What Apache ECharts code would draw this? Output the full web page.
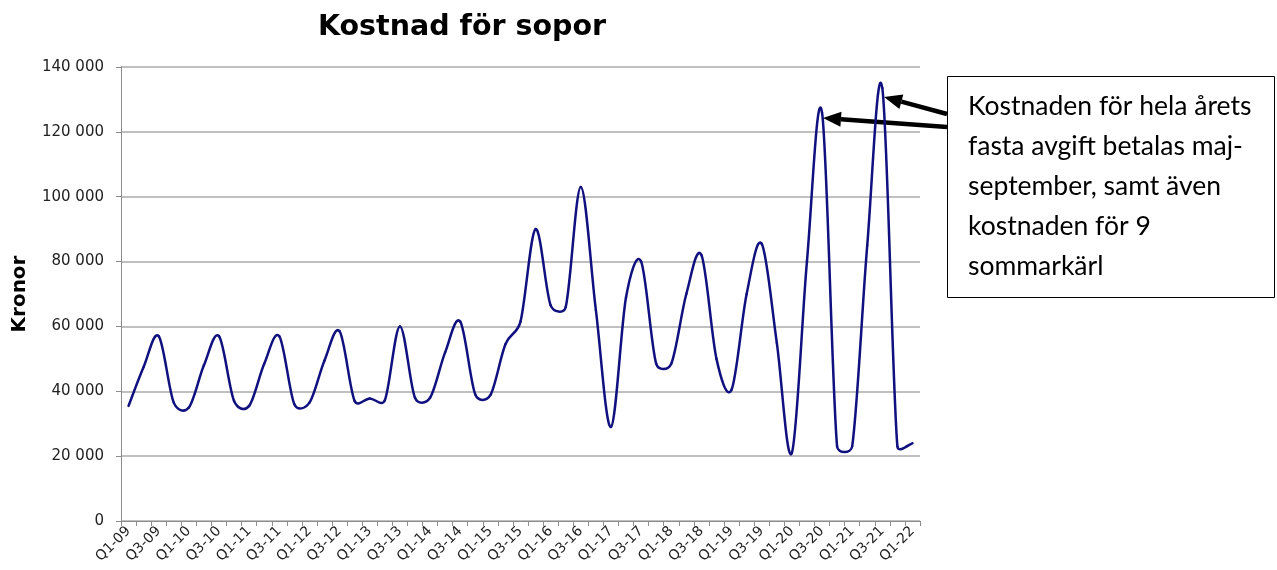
<!DOCTYPE html>
<html lang="sv">
<head>
<meta charset="UTF-8">
<title>Kostnad för sopor</title>
<script src="https://cdn.jsdelivr.net/npm/echarts@6/dist/echarts.min.js"></script>
<style>
  html, body { margin: 0; padding: 0; background: #fff; }
  #chart { width: 1277px; height: 570px; }
</style>
</head>
<body>
<div id="chart"></div>
<script>
// kvartal Q1-09 .. Q1-22
var quarters = [];
for (var yr = 9; yr <= 22; yr++) {
  for (var q = 1; q <= 4; q++) {
    if (yr === 22 && q > 1) break;
    quarters.push('Q' + q + '-' + (yr < 10 ? '0' + yr : yr));
  }
}

// kostnad per kvartal (kr)
var kostnad = [
  35500, 47500, 57000, 36500,   // 2009
  35000, 48000, 57000, 37000,   // 2010
  35500, 48500, 57000, 36000,   // 2011
  36500, 49500, 58500, 37000,   // 2012
  37800, 37200, 60000, 38000,   // 2013
  38000, 52000, 61500, 39000,   // 2014
  38800, 54500, 61500, 90000,   // 2015
  66500, 66000, 103000, 65000,  // 2016
  29000, 69000, 80000, 48500,   // 2017
  48500, 70000, 82000, 50000,   // 2018
  40500, 70000, 85500, 55000,   // 2019
  21000, 80000, 126000, 23000,  // 2020
  23000, 85000, 133500, 23000,  // 2021
  24000                         // Q1-22
];

var yTicks = { min: 0, max: 140000, step: 20000 };

var noteLines = [
  'Kostnaden för hela årets',
  'fasta avgift betalas maj-',
  'september, samt även',
  'kostnaden för 9',
  'sommarkärl'
];

var lineColor = '#10107f';

function fmt(v) {
  return String(v).replace(/\B(?=(\d{3})+(?!\d))/g, ' ');
}

// pil: linje + spets
function arrow(x1, y1, x2, y2) {
  var dx = x2 - x1, dy = y2 - y1;
  var len = Math.sqrt(dx * dx + dy * dy);
  var ux = dx / len, uy = dy / len;
  var hl = 18, hw = 7.5;
  var bx = x2 - ux * hl, by = y2 - uy * hl;
  return [{
    type: 'line',
    shape: { x1: x1, y1: y1, x2: bx, y2: by },
    style: { stroke: '#000', lineWidth: 4.5 }
  }, {
    type: 'polygon',
    shape: { points: [[x2, y2], [bx - uy * hw, by + ux * hw], [bx + uy * hw, by - ux * hw]] },
    style: { fill: '#000' }
  }];
}

function dist(a, b) {
  var dx = a[0] - b[0], dy = a[1] - b[1];
  return Math.sqrt(dx * dx + dy * dy);
}

// utjämnad kurva ungefär som Excel: Catmull-Rom 1/6, handtag högst halva segmentet
function renderSegment(params, api) {
  var i = params.dataIndex;
  var n = kostnad.length;
  if (i >= n - 1) return null;
  function pt(k) {
    k = Math.max(0, Math.min(n - 1, k));
    return api.coord([k, kostnad[k]]);
  }
  var p0 = pt(i - 1), p1 = pt(i), p2 = pt(i + 1), p3 = pt(i + 2);
  var d12 = dist(p1, p2);
  var d02 = dist(p0, p2), d13 = dist(p1, p3);
  var f1 = 1 / 6, f2 = 1 / 6;
  if (d02 > 0 && d02 * f1 > d12 / 2) f1 = d12 / 2 / d02;
  if (d13 > 0 && d13 * f2 > d12 / 2) f2 = d12 / 2 / d13;
  return {
    type: 'bezierCurve',
    shape: {
      x1: p1[0], y1: p1[1],
      x2: p2[0], y2: p2[1],
      cpx1: p1[0] + (p2[0] - p0[0]) * f1,
      cpy1: p1[1] + (p2[1] - p0[1]) * f1,
      cpx2: p2[0] - (p3[0] - p1[0]) * f2,
      cpy2: p2[1] - (p3[1] - p1[1]) * f2
    },
    style: { stroke: lineColor, lineWidth: 2.5, fill: null, lineCap: 'round' }
  };
}

var chart = echarts.init(document.getElementById('chart'));

var graphics = [{
  type: 'rect',
  shape: { x: 947.5, y: 76.5, width: 327, height: 221 },
  style: { fill: '#fff', stroke: '#000', lineWidth: 1 }
}, {
  type: 'text',
  left: 968,
  top: 86,
  style: {
    text: noteLines.join('\n'),
    font: '26.5px Lato',
    lineHeight: 40,
    fill: '#000'
  }
}].concat(arrow(947, 127, 823, 118), arrow(947, 114, 884, 97));

chart.setOption({
  animation: false,
  backgroundColor: '#fff',
  title: {
    text: 'Kostnad för sopor',
    left: 457,
    textAlign: 'center',
    top: 8,
    textStyle: {
      fontFamily: 'DejaVu Sans',
      fontWeight: 'bold',
      fontSize: 28.5,
      color: '#000'
    }
  },
  grid: { left: 121, right: 357, top: 67, bottom: 49 },
  xAxis: {
    type: 'category',
    data: quarters,
    boundaryGap: true,
    axisLine: { lineStyle: { color: '#8c8c8c', width: 1 } },
    axisTick: { show: true, interval: 0, length: 5, lineStyle: { color: '#8c8c8c' } },
    axisLabel: {
      interval: 1,
      rotate: 45,
      margin: 8,
      fontFamily: 'DejaVu Sans',
      fontSize: 14,
      color: '#222'
    },
    splitLine: { show: false }
  },
  yAxis: {
    type: 'value',
    min: yTicks.min,
    max: yTicks.max,
    interval: yTicks.step,
    name: 'Kronor',
    nameLocation: 'middle',
    nameGap: 91,
    nameTextStyle: {
      fontFamily: 'DejaVu Sans',
      fontWeight: 'bold',
      fontSize: 20,
      color: '#000'
    },
    axisLine: { show: true, lineStyle: { color: '#8c8c8c', width: 1 } },
    axisTick: { show: true, length: 5, lineStyle: { color: '#8c8c8c' } },
    axisLabel: {
      margin: 17,
      fontFamily: 'DejaVu Sans',
      fontSize: 15,
      color: '#222',
      formatter: fmt
    },
    splitLine: { lineStyle: { color: '#ababab', width: 1.5 } }
  },
  series: [{
    type: 'custom',
    data: kostnad.map(function (v, i) { return [i, v]; }),
    encode: { x: 0, y: 1 },
    clip: true,
    renderItem: renderSegment
  }],
  graphic: graphics
});
</script>
</body>
</html>
